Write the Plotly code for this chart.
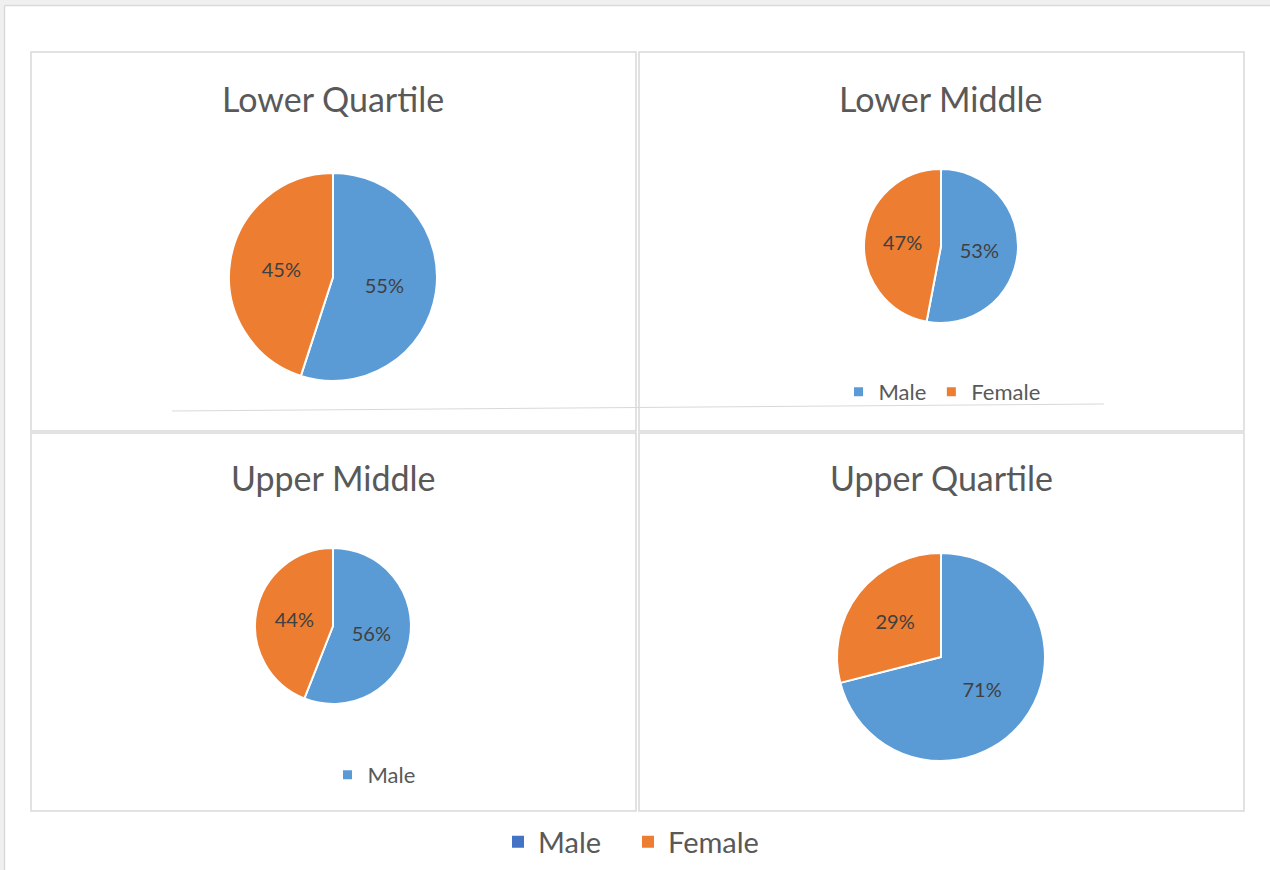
import plotly.graph_objects as go

W, H = 1270, 870

categories = ["Male", "Female"]
panel_titles = ["Lower Quartile", "Lower Middle", "Upper Middle", "Upper Quartile"]
lower_quartile = [55, 45]
lower_middle = [53, 47]
upper_middle = [56, 44]
upper_quartile = [71, 29]
series = [lower_quartile, lower_middle, upper_middle, upper_quartile]

pie_colors = ["#5B9BD5", "#ED7D31"]
legend_colors = ["#4472C4", "#ED7D31"]

FONT = "Lato, Open Sans, sans-serif"

# panel boxes in pixels (x0, y0, x1, y1)
panels = [(31, 52, 636, 431), (639, 52, 1244, 431), (31, 433, 636, 811), (639, 433, 1244, 811)]
# pie centre and radius in pixels
pies = [(333, 277, 104), (941, 246, 77), (333, 626, 78), (941, 657, 104)]
title_y = [98, 98, 478, 478]


def px(x):
    return x / W


def py(y):
    return 1 - y / H


fig = go.Figure()

for vals, (cx, cy, r) in zip(series, pies):
    fig.add_trace(go.Pie(
        labels=categories, values=vals, sort=False, direction="clockwise", rotation=0,
        marker=dict(colors=pie_colors, line=dict(color="white", width=2)),
        texttemplate="%{percent:.0%}", textposition="inside", insidetextorientation="horizontal",
        textfont=dict(family=FONT, size=20, color="#404040"),
        domain=dict(x=[px(cx - r), px(cx + r)], y=[py(cy + r), py(cy - r)]),
        showlegend=False, hoverinfo="label+percent",
    ))

# legend entries
for name, col in zip(categories, pie_colors):
    fig.add_trace(go.Scatter(x=[None], y=[None], mode="markers", name=name,
                             marker=dict(symbol="square", size=9, color=col), legend="legend2"))
fig.add_trace(go.Scatter(x=[None], y=[None], mode="markers", name=categories[0],
                         marker=dict(symbol="square", size=9, color=pie_colors[0]), legend="legend3"))
for name, col in zip(categories, legend_colors):
    fig.add_trace(go.Scatter(x=[None], y=[None], mode="markers", name=name,
                             marker=dict(symbol="square", size=12, color=col), legend="legend"))

shapes = []
# outer frame
shapes.append(dict(type="rect", xref="paper", yref="paper", x0=0, x1=1, y0=py(5), y1=1,
                   fillcolor="#F0F0F0", line=dict(width=0), layer="below"))
shapes.append(dict(type="rect", xref="paper", yref="paper", x0=0, x1=px(4), y0=0, y1=1,
                   fillcolor="#F0F0F0", line=dict(width=0), layer="below"))
shapes.append(dict(type="line", xref="paper", yref="paper", x0=px(4.5), x1=1, y0=py(5.5), y1=py(5.5),
                   line=dict(color="#D9D9D9", width=1.5)))
shapes.append(dict(type="line", xref="paper", yref="paper", x0=px(4.5), x1=px(4.5), y0=0, y1=py(5.5),
                   line=dict(color="#D9D9D9", width=1.5)))
for (x0, y0, x1, y1) in panels:
    shapes.append(dict(type="rect", xref="paper", yref="paper", x0=px(x0), x1=px(x1), y0=py(y1), y1=py(y0),
                       line=dict(color="#D9D9D9", width=1.5), fillcolor="rgba(0,0,0,0)"))
# stray thin line
shapes.append(dict(type="line", xref="paper", yref="paper", x0=px(172), x1=px(1104), y0=py(411), y1=py(404),
                   line=dict(color="#D9D9D9", width=1)))

annotations = []
for t, (cx, cy, r), ty in zip(panel_titles, pies, title_y):
    annotations.append(dict(text=t, x=px(cx), y=py(ty), xref="paper", yref="paper",
                            showarrow=False, xanchor="center", yanchor="middle",
                            font=dict(family=FONT, size=34, color="#595959")))

legend_font_small = dict(family=FONT, size=22, color="#595959")

fig.update_layout(
    width=W, height=H, margin=dict(l=0, r=0, t=0, b=0),
    paper_bgcolor="white", plot_bgcolor="white",
    xaxis=dict(visible=False), yaxis=dict(visible=False),
    shapes=shapes, annotations=annotations,
    legend=dict(orientation="h", x=px(628), y=py(842), xanchor="center", yanchor="middle",
                font=dict(family=FONT, size=29, color="#595959"),
                itemwidth=30, entrywidthmode="pixels", entrywidth=85, bgcolor="rgba(0,0,0,0)"),
    legend2=dict(orientation="h", x=px(942), y=py(392), xanchor="center", yanchor="middle",
                 font=legend_font_small, itemwidth=30, bgcolor="rgba(0,0,0,0)"),
    legend3=dict(orientation="h", x=px(374), y=py(775), xanchor="center", yanchor="middle",
                 font=legend_font_small, itemwidth=30, bgcolor="rgba(0,0,0,0)"),
)

fig.write_html("out.html", config={"displayModeBar": False},
               post_script="document.body.style.margin='0';document.body.style.overflow='hidden';")
